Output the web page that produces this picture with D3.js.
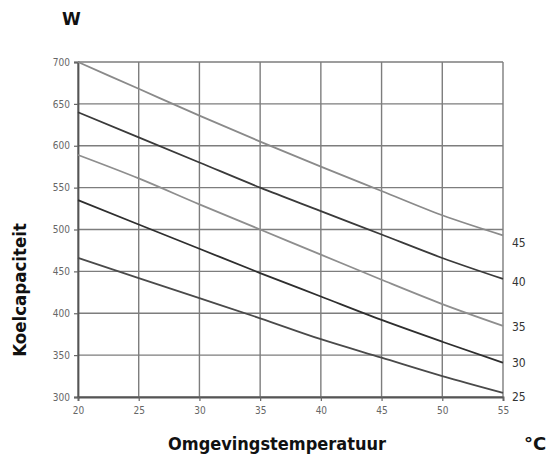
<!DOCTYPE html>
<html>
<head>
<meta charset="utf-8">
<script src="https://cdn.jsdelivr.net/npm/d3@7/dist/d3.min.js"></script>
<style>
  html, body { margin: 0; padding: 0; background: #fff; }
  svg { display: block; }
</style>
</head>
<body>
<svg id="chart" width="550" height="466"></svg>
<script>
// ---- data ----
const temps = [20, 25, 30, 35, 40, 45, 50, 55];
const seriesNames = ["45", "40", "35", "30", "25"];
const s45 = [700, 668, 636, 605, 575, 546, 517, 493];
const s40 = [640, 610, 580, 550, 522, 494, 466, 441];
const s35 = [589, 561, 530, 500, 470, 440, 411, 385];
const s30 = [535, 506, 477, 448, 420, 392, 366, 341];
const s25 = [466, 442, 418, 394, 369, 347, 325, 305];
const xTicks = [20, 25, 30, 35, 40, 45, 50, 55];
const yTicks = [300, 350, 400, 450, 500, 550, 600, 650, 700];

(function () {
const series = [s45, s40, s35, s30, s25];
const colors = ["#8a8a8a", "#3a3a3a", "#8e8e8e", "#2e2e2e", "#4a4a4a"];
const labelOffsets = [7, 3, 1, 0, 4];

const svg = d3.select("#chart");
const mL = 78, mR = 503, mT = 62, mB = 397;
const x = d3.scaleLinear().domain([20, 55]).range([mL, mR]);
const y = d3.scaleLinear().domain([300, 700]).range([mB, mT]);

const tickFont = "'DejaVu Sans Condensed', 'DejaVu Sans', sans-serif";
const boldFont = "'DejaVu Sans Condensed', 'DejaVu Sans', sans-serif";

// grid
const grid = svg.append("g");
grid.selectAll("line.h").data(yTicks).join("line").attr("class", "h")
  .attr("x1", mL).attr("x2", mR)
  .attr("y1", d => y(d)).attr("y2", d => y(d))
  .attr("stroke", "#7d7d7d").attr("stroke-width", 1.4);
grid.selectAll("line.v").data(xTicks).join("line").attr("class", "v")
  .attr("y1", mT).attr("y2", mB)
  .attr("x1", d => x(d)).attr("x2", d => x(d))
  .attr("stroke", "#7d7d7d").attr("stroke-width", 1.4);

// axes
const yAxis = svg.append("g").attr("transform", `translate(${mL},0)`)
  .call(d3.axisLeft(y).tickValues(yTicks).tickSize(4).tickPadding(4));
const xAxis = svg.append("g").attr("transform", `translate(0,${mB})`)
  .call(d3.axisBottom(x).tickValues(xTicks).tickSize(4).tickPadding(6));
[yAxis, xAxis].forEach(a => {
  a.select(".domain").attr("stroke", "#555").attr("stroke-width", 1.8);
  a.selectAll(".tick line").attr("stroke", "#666").attr("stroke-width", 1.2);
  a.selectAll(".tick text").attr("fill", "#666")
    .style("font-family", tickFont).style("font-size", "10px");
});

// lines
const line = d3.line().x((d, i) => x(temps[i])).y(d => y(d)).curve(d3.curveMonotoneX);
svg.append("g").selectAll("path").data(series).join("path")
  .attr("d", d => line(d))
  .attr("fill", "none")
  .attr("stroke", (d, i) => colors[i])
  .attr("stroke-width", 1.8);

// right labels
svg.append("g").selectAll("text").data(series).join("text")
  .attr("x", mR + 9)
  .attr("y", (d, i) => y(d[d.length - 1]) + labelOffsets[i])
  .attr("dy", "0.35em")
  .attr("fill", "#333")
  .style("font-family", tickFont).style("font-size", "12px")
  .text((d, i) => seriesNames[i]);

// titles
svg.append("text").attr("x", 62).attr("y", 25)
  .style("font-family", "'DejaVu Sans', sans-serif").style("font-weight", "bold")
  .style("font-size", "17px").attr("fill", "#111").text("W");

svg.append("text")
  .attr("transform", "translate(26,290) rotate(-90)")
  .attr("text-anchor", "middle")
  .style("font-family", boldFont).style("font-weight", "bold")
  .style("font-size", "18.5px").attr("fill", "#111").text("Koelcapaciteit");

svg.append("text").attr("x", 277).attr("y", 450)
  .attr("text-anchor", "middle")
  .style("font-family", boldFont).style("font-weight", "bold")
  .style("font-size", "18px").attr("fill", "#111").text("Omgevingstemperatuur");

svg.append("text").attr("x", 524).attr("y", 450)
  .style("font-family", "'DejaVu Sans', sans-serif").style("font-weight", "bold")
  .style("font-size", "18px").attr("fill", "#111").text("°C");
})();
</script>
</body>
</html>
